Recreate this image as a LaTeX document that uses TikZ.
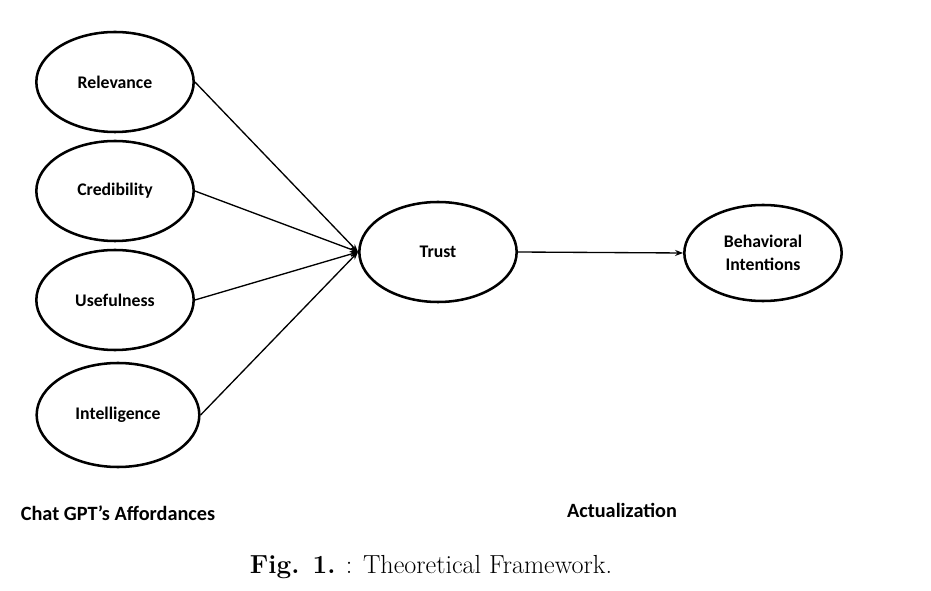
\documentclass[tikz,border=0pt]{standalone}
\usepackage{fontspec}
\newfontfamily\calib{Carlito}
\usetikzlibrary{arrows.meta,shapes.geometric}
\begin{document}
\begin{tikzpicture}[x=0.75pt,y=-0.75pt,
  ell/.style={ellipse,draw,line width=1.9pt,minimum width=118pt,minimum height=75pt,inner sep=0pt,align=center,font=\calib\bfseries\fontsize{13.3}{17}\selectfont},
  conn/.style={line width=1pt,-{Stealth[length=6pt,width=4.5pt]}},
  lbl/.style={font=\calib\bfseries\fontsize{15.2}{18}\selectfont}]
\useasboundingbox (0,0) rectangle (931,591);
\node[ell] (rel) at (115,82) {Relevance};
\node[ell] (cred) at (115,191) {Credibility};
\node[ell] (use) at (115,300) {Usefulness};
\node[ell,minimum width=122pt,minimum height=78pt] (int) at (118,415) {Intelligence};
\node[ell] (trust) at (438,252) {Trust};
\node[ell,minimum height=72pt] (beh) at (763,253) {Behavioral\\Intentions};
\coordinate (tin) at (trust.west);
\draw[conn] (rel.east) -- (tin);
\draw[conn] (cred.east) -- (tin);
\draw[conn] (use.east) -- (tin);
\draw[conn] (int.east) -- (tin);
\draw[conn] (trust.east) -- (beh.west);
\node[lbl] (aff) at (118,513) {Chat GPT’s Affordances};
\node[lbl] (act) at (622,510) {Actualization};
\node[font=\fontsize{19.6}{23}\selectfont] (cap) at (431,567) {\textbf{Fig. 1.} : Theoretical Framework.};
\end{tikzpicture}
\end{document}
